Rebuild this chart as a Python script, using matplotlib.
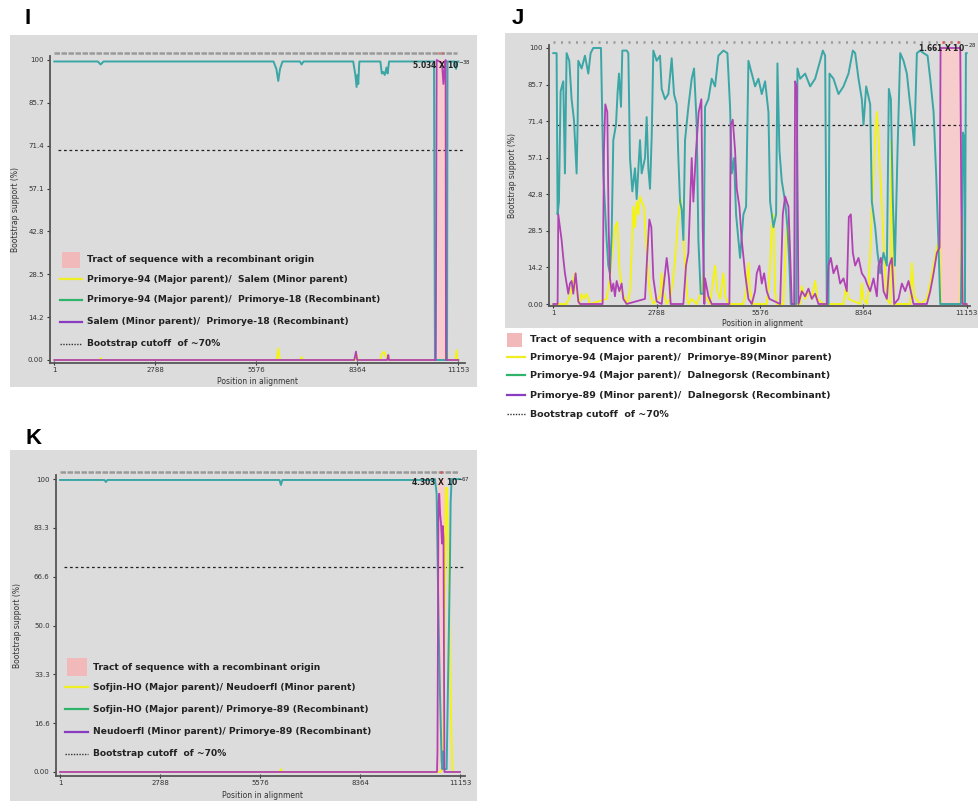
import numpy as np
import matplotlib.pyplot as plt
from matplotlib.patches import Rectangle
from matplotlib.lines import Line2D

W, H = 979, 801

TEAL = '#3ba6a6'
PURPLE = '#b042b4'
YELLOW = '#f4f40c'
LEG_YELLOW = '#eeee22'
LEG_GREEN = '#2fb46c'
LEG_PURPLE = '#8a3cc0'
PINK = '#f6cccc'
LEG_PINK = '#f1b9b9'
BG = '#dcdcdc'

x_ticks = [1, 2788, 5576, 8364, 11153]
x_ticklabels = ['1', '2788', '5576', '8364', '11153']
ij_yticklabels = ['100', '85.7', '71.4', '57.1', '42.8', '28.5', '14.2', '0.00']
k_yticklabels = ['100', '83.3', '66.6', '50.0', '33.3', '16.6', '0.00']

# ---- panel I ----
i_pink = [10600, 10830]
i_teal_x = [1, 1200, 1280, 1360, 6050, 6130, 6182, 6230, 6300, 6780, 6826, 6880,
            8250, 8310, 8344, 8370, 8390, 8420, 9000, 9040, 9080, 9120, 9170, 9200,
            9240, 10480, 10507, 10840, 10853, 11050, 11090, 11120, 11153]
i_teal_y = [99.5, 99.5, 98.5, 99.5, 99.5, 97, 93, 97, 99.5, 99.5, 98.5, 99.5,
            99.5, 95, 91, 95, 92, 99.5, 99.5, 95.5, 96, 95, 97.5, 95.5,
            99.5, 99.5, 0, 0, 99.5, 99.5, 97, 99.5, 99.5]
i_pur_x = [1, 8280, 8326, 8360, 9190, 9218, 9240, 10530, 10554, 10700, 10740, 10770,
           10800, 10811, 11153]
i_pur_y = [0, 0, 2.8, 0, 0, 1.7, 0, 0, 100, 99, 92, 97, 100, 0, 0]
i_yel_x = [1, 1250, 1288, 1320, 6140, 6182, 6230, 6790, 6826, 6860, 8320, 8350, 8380,
           9000, 9040, 9100, 9150, 9190, 10800, 10826, 10850, 11080, 11100, 11130, 11153]
i_yel_y = [0, 0, 0.6, 0, 0, 3.9, 0, 0, 1, 0, 0, 1.7, 0,
           0, 2, 2.8, 1.5, 0, 0, 11, 0, 0, 3.3, 0, 0]

# ---- panel J ----
j_pink = [10440, 11025]
j_teal_x = [1, 90, 117, 153, 198, 270, 315, 360, 432, 495, 558, 585, 630, 657, 675, 765,
            855, 945, 1008, 1080, 1287, 1350, 1395, 1440, 1485, 1530, 1575, 1620, 1692,
            1737, 1773, 1827, 1863, 1980, 2025, 2070, 2133, 2205, 2250, 2340, 2385, 2475,
            2520, 2565, 2610, 2655, 2700, 2790, 2880, 2925, 3015, 3105, 3195, 3258, 3330,
            3375, 3420, 3465, 3510, 3555, 3645, 3735, 3798, 3870, 3915, 3978, 4050, 4095,
            4185, 4275, 4365, 4455, 4590, 4698, 4770, 4815, 4878, 4932, 4995, 5040, 5130,
            5202, 5265, 5355, 5445, 5535, 5625, 5715, 5805, 5850, 5940, 6012, 6048, 6102,
            6165, 6255, 6318, 6372, 6408, 6552, 6588, 6660, 6795, 6930, 7065, 7200, 7272,
            7335, 7380, 7425, 7452, 7560, 7695, 7830, 7965, 8082, 8145, 8235, 8325, 8370,
            8442, 8550, 8595, 8685, 8748, 8820, 8910, 9000, 9054, 9108, 9162, 9216, 9288,
            9360, 9450, 9540, 9612, 9675, 9738, 9810, 9900, 9990, 10098, 10170, 10260,
            10332, 10395, 10440, 10998, 11052, 11088, 11106, 11133, 11153]
j_teal_y = [98, 98, 35, 40, 83, 87, 51, 98, 95, 80, 72, 64, 51, 70, 95, 92,
            97, 90, 98, 100, 100, 51, 38, 25, 15, 12, 27, 64, 70,
            83, 90, 77, 99, 99, 98, 57, 44, 53, 41, 64, 51, 57,
            73, 53, 45, 65, 99, 95, 97, 84, 80, 82, 96, 82, 78,
            57, 40, 37, 25, 64, 77, 88, 92, 70, 25, 4, 4, 77,
            80, 88, 85, 97, 99, 98, 77, 51, 57, 35, 25, 18, 35,
            38, 95, 90, 85, 88, 82, 87, 75, 40, 30, 35, 94, 60,
            48, 40, 30, 15, 0, 0, 92, 88, 90, 85, 88, 95, 99,
            97, 0, 0, 90, 88, 82, 85, 90, 99, 98, 88, 80, 70,
            85, 78, 40, 30, 20, 12, 20, 15, 84, 80, 40, 15, 60,
            98, 95, 90, 80, 72, 62, 98, 99, 98, 97, 88, 75,
            50, 22, 0, 0, 67, 65, 0, 98, 98]
j_pur_x = [1, 117, 135, 180, 225, 270, 315, 360, 405, 450, 495, 540, 603, 675, 720,
           1332, 1368, 1404, 1458, 1494, 1530, 1575, 1620, 1665, 1710, 1782, 1845, 1890,
           1980, 2475, 2538, 2592, 2646, 2700, 2790, 2925, 3015, 3060, 3123, 3168, 3510,
           3582, 3645, 3690, 3735, 3780, 3852, 3924, 3996, 4032, 4077, 4095, 4185, 4275,
           4752, 4788, 4842, 4905, 4950, 5022, 5085, 5175, 5265, 5355, 5445, 5490, 5562,
           5625, 5688, 5760, 5832, 6120, 6192, 6255, 6300, 6345, 6390, 6435, 6498, 6525,
           6570, 6615, 6705, 6795, 6885, 6975, 7065, 7155, 7380, 7425, 7488, 7560, 7650,
           7740, 7830, 7920, 7974, 8028, 8082, 8145, 8235, 8325, 8415, 8460, 8550, 8640,
           8730, 8775, 8838, 8910, 9000, 9063, 9135, 9198, 9315, 9405, 9495, 9585, 9675,
           9720, 10080, 10170, 10260, 10350, 10422, 10449, 10980, 11007, 11043, 11153]
j_pur_y = [0, 0, 35, 30, 25, 18, 12, 8, 4, 8, 9, 4, 12, 1, 0,
           0, 60, 78, 75, 30, 10, 5, 8, 3, 9, 5, 8, 2,
           0, 2, 20, 33, 30, 10, 1, 0, 12, 18, 10, 0, 0,
           15, 20, 38, 57, 40, 60, 75, 80, 30, 0, 10, 3, 0,
           0, 70, 72, 60, 45, 38, 25, 12, 2, 0, 5, 12, 15,
           8, 12, 5, 2, 0, 35, 42, 40, 38, 20, 0, 0, 87,
           85, 0, 5, 3, 6, 2, 4, 0, 0, 15, 18, 12, 15,
           8, 10, 5, 34, 35, 20, 15, 18, 12, 10, 8, 5, 10,
           3, 15, 18, 5, 2, 15, 18, 0, 2, 8, 5, 9, 3,
           0, 0, 5, 12, 20, 22, 100, 100, 42, 0, 0]
j_yel_x = [1, 360, 450, 522, 585, 630, 702, 765, 828, 900, 990, 1440, 1530, 1602, 1665,
           1728, 1782, 1845, 1935, 1998, 2070, 2115, 2160, 2205, 2250, 2295, 2340, 2385,
           2448, 2502, 2565, 2628, 2700, 2880, 2925, 2970, 3060, 3150, 3240, 3312, 3375,
           3438, 3492, 3555, 3600, 3645, 3735, 3870, 4005, 4050, 4095, 4230, 4302, 4365,
           4428, 4500, 4590, 4644, 4725, 5130, 5202, 5265, 5310, 5400, 5760, 5832, 5895,
           5940, 5985, 6030, 6210, 6264, 6318, 6363, 6408, 6660, 6705, 6795, 6885, 6975,
           7065, 7128, 7290, 7830, 7902, 7965, 8280, 8325, 8370, 8460, 8505, 8550, 8622,
           8685, 8730, 8775, 8820, 8865, 8910, 8955, 9000, 9090, 9117, 9162, 9198, 9630,
           9675, 9738, 9900, 10080, 10170, 10260, 10350, 10422, 10458, 10980, 11007,
           11052, 11153]
j_yel_y = [0, 0, 3, 8, 12, 5, 0, 4, 2, 4, 0, 2, 10, 22, 30,
           32, 15, 5, 2, 0, 5, 20, 38, 30, 40, 35, 42, 40,
           38, 25, 10, 3, 0, 3, 12, 5, 0, 2, 10, 22, 34,
           41, 32, 15, 5, 0, 2, 0, 5, 12, 3, 0, 8, 15,
           5, 2, 12, 3, 0, 0, 5, 16, 5, 0, 0, 10, 30,
           35, 5, 0, 0, 20, 33, 25, 0, 0, 7, 2, 5, 2,
           9, 2, 0, 0, 7, 2, 0, 8, 2, 0, 5, 20, 45,
           65, 75, 64, 51, 38, 25, 12, 2, 0, 64, 30, 0, 0,
           16, 3, 0, 2, 8, 15, 22, 25, 0, 0, 34,
           0, 0]

# ---- panel K ----
k_pink = [10545, 10740]
k_teal_x = [1, 1240, 1282, 1320, 6120, 6160, 6200, 10430, 10455, 10502, 10530, 10558,
            10595, 10641, 10660, 10680, 10700, 10781, 10799, 10846, 10874, 10892, 10920,
            11153]
k_teal_y = [99.7, 99.7, 99, 99.7, 99.7, 98, 99.7, 99.7, 100, 95, 72, 50,
            27, 4, 1, 7, 1, 1, 15, 50, 72, 92, 100, 100]
k_pur_x = [1, 10512, 10525, 10553, 10575, 10600, 10623, 10651, 10672, 10693, 10720, 11153]
k_pur_y = [0, 0, 7, 92, 95, 88, 85, 78, 84, 80, 0, 0]
k_yel_x = [1, 6130, 6160, 6190, 10600, 10650, 10690, 10720, 10762, 10790, 10846, 10902,
           10944, 11153]
k_yel_y = [0, 0, 1, 0, 0, 1, 3, 50, 97, 97, 60, 20, 0, 0]

legend_i = ['Tract of sequence with a recombinant origin',
            'Primorye-94 (Major parent)/  Salem (Minor parent)',
            'Primorye-94 (Major parent)/  Primorye-18 (Recombinant)',
            'Salem (Minor parent)/  Primorye-18 (Recombinant)',
            'Bootstrap cutoff  of ~70%']
legend_j = ['Tract of sequence with a recombinant origin',
            'Primorye-94 (Major parent)/  Primorye-89(Minor parent)',
            'Primorye-94 (Major parent)/  Dalnegorsk (Recombinant)',
            'Primorye-89 (Minor parent)/  Dalnegorsk (Recombinant)',
            'Bootstrap cutoff  of ~70%']
legend_k = ['Tract of sequence with a recombinant origin',
            'Sofjin-HO (Major parent)/ Neudoerfl (Minor parent)',
            'Sofjin-HO (Major parent)/ Primorye-89 (Recombinant)',
            'Neudoerfl (Minor parent)/ Primorye-89 (Recombinant)',
            'Bootstrap cutoff  of ~70%']

fig = plt.figure(figsize=(W / 100, H / 100), dpi=100)


def fig_rect(x0, y0, x1, y1):
    return [x0 / W, 1 - y1 / H, (x1 - x0) / W, (y1 - y0) / H]


# grey panel backgrounds
for b in [(10, 35, 477, 387), (505, 33, 978, 328), (10, 450, 477, 801)]:
    r = fig_rect(*b)
    fig.add_artist(Rectangle((r[0], r[1]), r[2], r[3], transform=fig.transFigure,
                             facecolor=BG, edgecolor='none', zorder=0))


def panel(px_box, xlim, ylim, ylabels, pink, yel, teal, pur, label_pos, strip_y,
          strip_dash, marks, pval, pval_xy):
    ax = fig.add_axes(fig_rect(*px_box))
    ax.set_facecolor('none')
    ax.set_xlim(xlim)
    ax.set_ylim(ylim)
    ax.fill_between(pink, 0, 100, color=PINK, lw=0, zorder=1)
    ax.plot([100, xlim[1]], [70, 70], color='#222222', lw=0.9,
            linestyle=(0, (2.2, 2.2)), zorder=2)
    ax.plot(yel[0], yel[1], color=YELLOW, lw=1.3, zorder=3)
    ax.plot(teal[0], teal[1], color=TEAL, lw=1.4, zorder=4)
    ax.plot(pur[0], pur[1], color=PURPLE, lw=1.3, zorder=5)
    # informative-site strip along the top
    ax.plot([1, 11120], [strip_y, strip_y], color='#9a9a9a', lw=1.8,
            linestyle=strip_dash, clip_on=False, solid_capstyle='butt')
    for m in marks:
        ax.plot([m, m + 40], [strip_y, strip_y], color='#e84848', lw=1.8,
                clip_on=False, solid_capstyle='butt')
    ax.text(pval_xy[0], pval_xy[1], pval, fontsize=5.5, fontweight='bold',
            ha='right', va='center', color='#222222', clip_on=False, zorder=6)
    for s in ['top', 'right']:
        ax.spines[s].set_visible(False)
    for s in ['left', 'bottom']:
        ax.spines[s].set_color('#555555')
        ax.spines[s].set_linewidth(1.3)
    ax.set_yticks(np.linspace(100, 0, len(ylabels)))
    ax.set_yticklabels(ylabels)
    ax.set_xticks(x_ticks)
    ax.set_xticklabels(x_ticklabels)
    ax.tick_params(axis='y', labelsize=5, length=2.5, pad=2, colors='#333333')
    ax.tick_params(axis='x', labelsize=5, length=2.5, pad=1.5, colors='#333333',
                   direction='inout')
    ax.set_ylabel('Bootstrap support (%)', fontsize=5.5, color='#333333')
    ax.set_xlabel('Position in alignment', fontsize=5.5, color='#333333')
    ax.yaxis.set_label_coords(*label_pos[0])
    ax.xaxis.set_label_coords(*label_pos[1])
    return ax


panel((50, 56, 465, 363), (-118, 11336), (-1, 101.33), ij_yticklabels, i_pink,
      (i_yel_x, i_yel_y), (i_teal_x, i_teal_y), (i_pur_x, i_pur_y),
      ((-0.072, 0.5), (0.5, -0.045)), 102.4, (0, (2.2, 0.6)), [10590, 10700],
      r'5.034 X 10$^{-38}$', (11500, 98.5))

panel((549, 45, 970, 306), (-115, 11243), (-0.78, 101.17), ij_yticklabels, j_pink,
      (j_yel_x, j_yel_y), (j_teal_x, j_teal_y), (j_pur_x, j_pur_y),
      ((-0.076, 0.5), (0.506, -0.05)), 102.3, (0, (0.8, 2.2)), [10500, 10700, 10900],
      r'1.661 X 10$^{-28}$', (11420, 100))

panel((56, 475, 465, 776), (-111, 11293), (-1.37, 101.4), k_yticklabels, k_pink,
      (k_yel_x, k_yel_y), (k_teal_x, k_teal_y), (k_pur_x, k_pur_y),
      ((-0.083, 0.5), (0.504, -0.05)), 102.4, (0, (2.2, 0.6)), [10600],
      r'4.303 X 10$^{-67}$', (11420, 99))


def legend(texts, line_x, text_x, rows, patch_box, size):
    r = fig_rect(*patch_box)
    fig.add_artist(Rectangle((r[0], r[1]), r[2], r[3], transform=fig.transFigure,
                             facecolor=LEG_PINK, edgecolor='none', zorder=3))
    styles = [(LEG_YELLOW, '-'), (LEG_GREEN, '-'), (LEG_PURPLE, '-'),
              ('#333333', (0, (1, 1)))]
    for (col, ls), py in zip(styles, rows[1:]):
        fig.add_artist(Line2D([line_x[0] / W, line_x[1] / W], [1 - py / H, 1 - py / H],
                              transform=fig.transFigure, color=col,
                              lw=1.6 if ls == '-' else 1.0, linestyle=ls, zorder=3))
    for t, py in zip(texts, rows):
        fig.text(text_x / W, 1 - py / H, t, fontsize=size, fontweight='bold',
                 color='#222222', ha='left', va='center', zorder=4)


legend(legend_i, (60, 82), 87, [260, 279, 300, 322, 344], (62, 252, 80, 268), 6.6)
legend(legend_j, (507, 525), 530, [340, 357, 375, 395, 414], (507, 333, 522, 347), 6.8)
legend(legend_k, (65, 88), 93, [667, 687, 709, 732, 754], (67, 658, 87, 676), 6.6)

for letter, px, py in [('I', 28, 19), ('J', 518, 18), ('K', 34, 439)]:
    fig.text(px / W, 1 - py / H, letter, fontsize=16, fontweight='bold',
             family='Liberation Sans', ha='center', va='center')

fig.savefig('out.png', dpi=100)
